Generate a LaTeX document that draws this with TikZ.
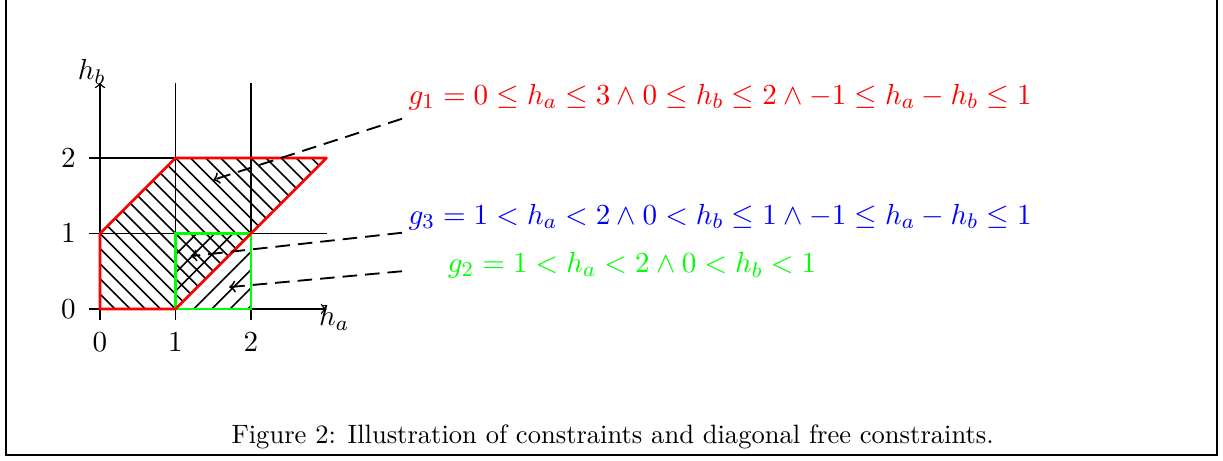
\documentclass[tikz,border=0pt]{standalone}
\begin{document}
\begin{tikzpicture}[x=1cm,y=1cm,
  axisline/.style={line width=0.55pt},
  gridline/.style={line width=0.55pt},
  tick/.style={line width=0.55pt},
  hatch/.style={line width=0.6pt},
  ticklbl/.style={font=\fontsize{11}{13}\selectfont, inner sep=0pt},
  lbl/.style={font=\fontsize{10.95}{13}\selectfont, inner sep=0pt, anchor=west},
  pointer/.style={->, line width=0.7pt, dash pattern=on 5.5pt off 3pt},
  redbox/.style={draw=red, line width=1pt, line join=round},
  greenbox/.style={draw=green, line width=1pt}]
\useasboundingbox (-1.3245,-2.0) rectangle (14.874,4.093);
% frame
\draw[line width=1pt] (-1.245,4.093) -- (-1.245,-1.934) -- (14.795,-1.934) -- (14.795,4.093);
% grid lines
\foreach \x in {1,2} \draw[gridline] (\x,0) -- (\x,3);
\foreach \y in {1,2} \draw[gridline] (0,\y) -- (3,\y);
% axes
\draw[axisline,->] (0,0) -- (3,0);
\draw[axisline,->] (0,0) -- (0,3);
\foreach \x in {0,1,2} \draw[tick] (\x,0) -- (\x,-0.14);
\foreach \y in {0,1,2} \draw[tick] (0,\y) -- (-0.14,\y);
\foreach \x in {0,1,2} \node[ticklbl] (tx\x) at (\x,-0.44) {$\x$};
\foreach \y in {0,1,2} \node[ticklbl] (ty\y) at (-0.42,\y) {$\y$};
\node[ticklbl] (ha) at (3.10,-0.12) {$h_a$};
\node[ticklbl] (hb) at (-0.11,3.14) {$h_b$};
% red region hatching
\begin{scope}
  \clip (0,0) -- (1,0) -- (3,2) -- (1,2) -- (0,1) -- cycle;
  \foreach \k in {0,...,26} {
    \pgfmathsetmacro{\c}{\k*0.2}
    \draw[hatch] (\c+1,-1) -- (\c-4,4);
  }
\end{scope}
% green region hatching
\begin{scope}
  \clip (1,0) rectangle (2,1);
  \foreach \k in {-6,...,6} {
    \pgfmathsetmacro{\d}{1+\k*0.24}
    \draw[hatch] (\d-1,-1) -- (\d+2,2);
  }
\end{scope}
\draw[greenbox] (1,0) rectangle (2,1);
\draw[redbox] (0,0) -- (1,0) -- (3,2) -- (1,2) -- (0,1) -- cycle;
% labels
\node[lbl, text=red] (g1) at (4.08,2.81) {$g_1 = 0 \leq h_a \leq 3 \wedge 0 \leq h_b \leq 2 \wedge -1 \leq h_a - h_b \leq 1$};
\node[lbl, text=blue] (g3) at (4.08,1.22) {$g_3 = 1 < h_a < 2 \wedge 0 < h_b \leq 1 \wedge -1 \leq h_a - h_b \leq 1$};
\node[lbl, text=green] (g2) at (4.6,0.58) {$g_2 = 1 < h_a < 2 \wedge 0 < h_b < 1$};
% pointers
\coordinate (p1s) at (4.0,2.52);
\coordinate (p1e) at (1.5,1.71);
\coordinate (p3s) at (4.0,1.01);
\coordinate (p3e) at (1.2,0.70);
\coordinate (p2s) at (4.0,0.50);
\coordinate (p2e) at (1.71,0.29);
\draw[pointer] (p1s) -- (p1e);
\draw[pointer] (p3s) -- (p3e);
\draw[pointer] (p2s) -- (p2e);
% caption
\node[font=\fontsize{10}{12}\selectfont, inner sep=0pt] (cap) at (6.79,-1.695) {Figure 2: Illustration of constraints and diagonal free constraints.};
\end{tikzpicture}
\end{document}
